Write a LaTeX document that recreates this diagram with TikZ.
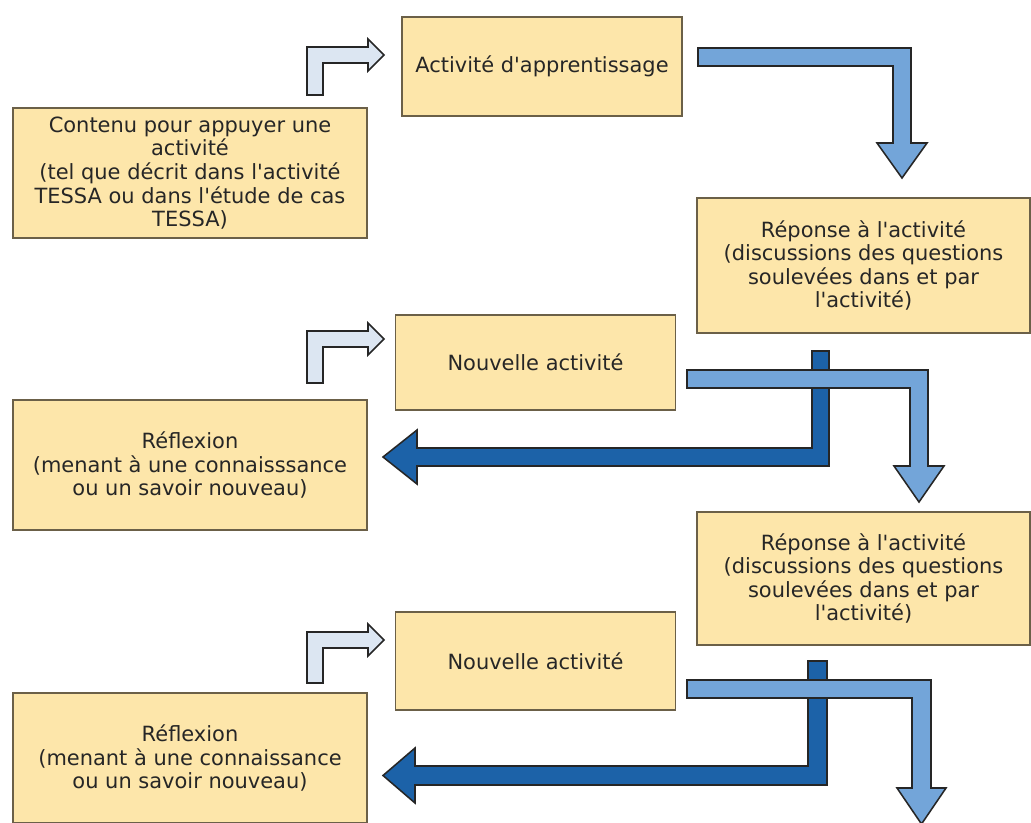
\documentclass[tikz,border=0pt]{standalone}
\usepackage[dvipsnames]{xcolor}
\usepackage{fontspec}
\setmainfont{DejaVu Sans}[Ligatures=TeXOff]

\definecolor{boxfill}{HTML}{FDE6AA}
\definecolor{boxline}{HTML}{6B6048}
\definecolor{lightfill}{HTML}{DCE6F2}
\definecolor{midfill}{HTML}{73A5D9}
\definecolor{darkfill}{HTML}{1C62A8}

\begin{document}
\begin{tikzpicture}[x=0.025cm,y=-0.025cm,
    box node/.style={draw=boxline,fill=boxfill,line width=0.8pt,align=center,text=black!85,font=\fontsize{14.9}{16.8}\selectfont},
    light arrow/.style={draw=black!85,fill=lightfill,line width=1.1pt},
    mid arrow/.style={draw=black!85,fill=midfill,line width=1.1pt},
    dark arrow/.style={draw=black!85,fill=darkfill,line width=1.1pt}]

    \useasboundingbox (0,0) rectangle (1031,822);

    \node[box node,minimum width=8.85cm,minimum height=3.25cm] (contenu) at (190,173)
        {Contenu pour appuyer une\\activité\\(tel que décrit dans l'activité\\TESSA ou dans l'étude de cas\\TESSA)};
    \node[box node,minimum width=7cm,minimum height=2.475cm] (apprent) at (542,66.5) {Activité d'apprentissage};
    \node[box node,minimum width=8.325cm,minimum height=3.375cm] (reponse1) at (863.5,265.5)
        {Réponse à l'activité\\(discussions des questions\\soulevées dans et par\\l'activité)};
    \node[box node,minimum width=7cm,minimum height=2.375cm] (nouvelle1) at (535.5,362.5) {Nouvelle activité};
    \node[box node,minimum width=8.85cm,minimum height=3.25cm] (reflexion1) at (190,465)
        {Réflexion\\(menant à une connaisssance\\ou un savoir nouveau)};
    \node[box node,minimum width=8.325cm,minimum height=3.325cm] (reponse2) at (863.5,578.5)
        {Réponse à l'activité\\(discussions des questions\\soulevées dans et par\\l'activité)};
    \node[box node,minimum width=7cm,minimum height=2.45cm] (nouvelle2) at (535.5,661) {Nouvelle activité};
    \node[box node,minimum width=8.85cm,minimum height=3.25cm] (reflexion2) at (190,758)
        {Réflexion\\(menant à une connaissance\\ou un savoir nouveau)};

    % bent arrows, contenu / reflexion -> activity
    \draw[light arrow] (307,95) -- (307,47) -- (368,47) -- (368,39) -- (384,55) -- (368,71) -- (368,63) -- (323,63) -- (323,95) -- cycle;
    \draw[light arrow] (307,383) -- (307,331) -- (368,331) -- (368,323) -- (384,339) -- (368,355) -- (368,347) -- (323,347) -- (323,383) -- cycle;
    \draw[light arrow] (307,683) -- (307,632) -- (368,632) -- (368,624) -- (384,640) -- (368,656) -- (368,648) -- (323,648) -- (323,683) -- cycle;

    % activity -> reponse
    \draw[mid arrow] (698,48) -- (911,48) -- (911,143) -- (927,143) -- (902,178) -- (877,143) -- (893,143) -- (893,66) -- (698,66) -- cycle;

    % reponse -> reflexion, then activity -> reponse on top
    \draw[dark arrow] (812,351) -- (829,351) -- (829,466) -- (417,466) -- (417,484) -- (383,457) -- (417,430) -- (417,448) -- (812,448) -- cycle;
    \draw[mid arrow] (687,370) -- (928,370) -- (928,466) -- (944,466) -- (919,502) -- (894,466) -- (910,466) -- (910,388) -- (687,388) -- cycle;

    \draw[dark arrow] (808,661) -- (827,661) -- (827,785) -- (415,785) -- (415,803) -- (383,775.5) -- (415,748) -- (415,766) -- (808,766) -- cycle;
    \draw[mid arrow] (687,680) -- (931,680) -- (931,788) -- (946,788) -- (921.5,824) -- (897,788) -- (912,788) -- (912,698) -- (687,698) -- cycle;
\end{tikzpicture}
\end{document}
